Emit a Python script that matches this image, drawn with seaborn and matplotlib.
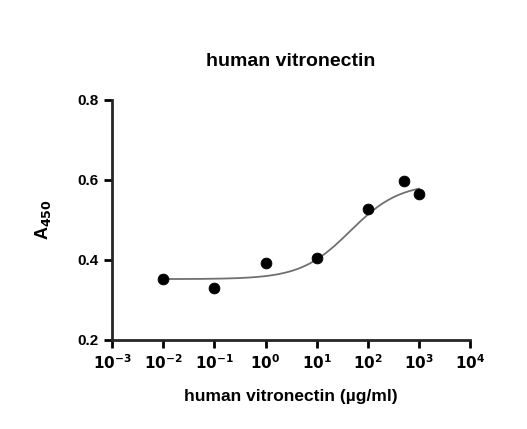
import numpy as np
import matplotlib
matplotlib.use("Agg")
import matplotlib.pyplot as plt
import seaborn as sns

conc = [0.01, 0.1, 1, 10, 100, 500, 1000]
a450 = [0.353, 0.330, 0.393, 0.405, 0.527, 0.598, 0.565]
# fitted 4PL parameters (estimated)
bottom, top, ec50, hill = 0.352, 0.592, 45.0, 0.9

sns.set_style("ticks")
plt.rcParams['font.family'] = ['Liberation Sans', 'DejaVu Sans']
plt.rcParams['text.color'] = 'black'
plt.rcParams['axes.labelcolor'] = 'black'
plt.rcParams['xtick.color'] = 'black'
plt.rcParams['ytick.color'] = 'black'
plt.rcParams['axes.unicode_minus'] = False

fig = plt.figure(figsize=(5.27, 4.29), dpi=100)
ax = fig.add_axes([0.2125, 0.2075, 0.68, 0.56])

xf = np.logspace(-2, 3, 200)
yf = bottom + (top - bottom) / (1 + (ec50 / xf) ** hill)
sns.lineplot(x=xf, y=yf, ax=ax, color='#707070', lw=1.3)
sns.scatterplot(x=conc, y=a450, ax=ax, color='black', s=60, edgecolor='black', zorder=3)

ax.set_xscale('log')
ax.set_xlim(1e-3, 1e4)
ax.set_ylim(0.2, 0.8)
ax.set_yticks([0.2, 0.4, 0.6, 0.8])
ax.set_yticklabels(['0.2', '0.4', '0.6', '0.8'])
ax.set_xticks([10.0**k for k in range(-3, 5)])
ax.set_xticklabels([f'$\\mathbf{{10^{{{k}}}}}$' for k in range(-3, 5)])
ax.xaxis.set_minor_locator(matplotlib.ticker.NullLocator())
for s in ['top', 'right']:
    ax.spines[s].set_visible(False)
for s in ['left', 'bottom']:
    ax.spines[s].set_linewidth(2)
ax.tick_params(width=2, length=6, labelsize=11, color='black', labelcolor='black')
for lab in ax.get_yticklabels():
    lab.set_fontweight('bold')
ax.set_xlabel('human vitronectin (µg/ml)', fontsize=12.5, fontweight='bold', labelpad=12, color='black')
ax.set_ylabel('A$_{\\mathbf{450}}$', fontsize=13, fontweight='bold', labelpad=18, color='black')
ax.set_title('human vitronectin', fontsize=14, fontweight='bold', pad=24, color='black')
fig.savefig('out.png', dpi=100)
